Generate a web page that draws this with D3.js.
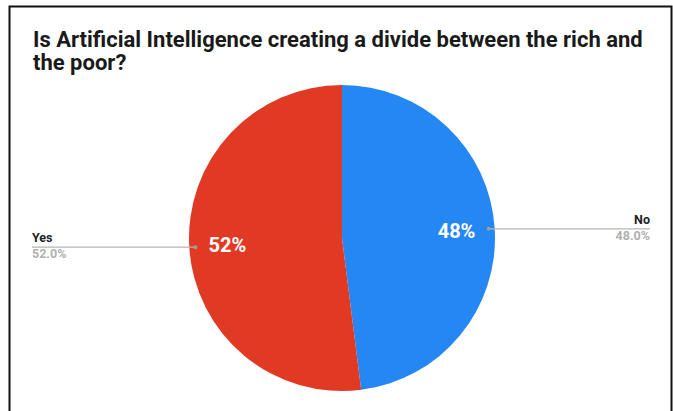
<!DOCTYPE html>
<html>
<head>
<meta charset="utf-8">
<script src="https://cdn.jsdelivr.net/npm/d3@7"></script>
<style>
  body { margin: 0; background: #fff; }
  svg { display: block; }
</style>
</head>
<body>
<script>
'use strict';

// data
const labels = ["No", "Yes"];
const values = [48, 52];
const colors = ["#2587f4", "#e03a25"];
const titleLines = [
    "Is Artificial Intelligence creating a divide between the rich and",
    "the poor?"
];

function createPie(width, height) {
    let svg = d3.select("body").append("svg")
        .attr("width", width)
        .attr("height", height);

    // frame, bottom edge runs off the picture
    svg.append("rect")
        .attr("x", 9.5)
        .attr("y", 6.5)
        .attr("width", 662)
        .attr("height", 430)
        .attr("fill", "#fff")
        .attr("stroke", "#111")
        .attr("stroke-width", 2);

    svg.append("g")
        .selectAll("text")
        .data(titleLines)
        .enter().append("text")
        .attr("x", 33)
        .attr("y", function(d, i) { return 47 + i * 23; })
        .text(function(d) { return d; })
        .style("font-family", "Roboto")
        .style("font-weight", "bold")
        .style("font-size", "22px")
        .style("fill", "#1a1a1a");

    let cx = 342, cy = 238, radius = 153;
    let total = d3.sum(values);

    let pie = d3.pie().sort(null).value(function(d) { return d; });
    let arcs = pie(values);
    let arc = d3.arc().innerRadius(0).outerRadius(radius);
    let inner = d3.arc().innerRadius(radius * 0.75).outerRadius(radius * 0.75);
    let dotArc = d3.arc().innerRadius(radius * 0.96).outerRadius(radius * 0.96);

    let g = svg.append("g")
        .attr("transform", "translate(" + cx + "," + cy + ")");

    g.selectAll("path")
        .data(arcs)
        .enter().append("path")
        .attr("d", arc)
        .attr("fill", function(d, i) { return colors[i]; });

    g.selectAll("text.pct")
        .data(arcs)
        .enter().append("text")
        .attr("class", "pct")
        .attr("transform", function(d) { return "translate(" + inner.centroid(d) + ")"; })
        .attr("text-anchor", "middle")
        .attr("dy", "0.36em")
        .text(function(d) { return Math.round(d.value / total * 100) + "%"; })
        .style("font-family", "Roboto")
        .style("font-weight", "bold")
        .style("font-size", "20px")
        .style("fill", "#fff");

    // outside labels with leader lines
    let lineEnd = [650, 32];
    arcs.forEach(function(d, i) {
        let p = dotArc.centroid(d);
        let px = cx + p[0], py = cy + p[1];
        let right = p[0] > 0;
        svg.append("line")
            .attr("x1", px).attr("y1", py)
            .attr("x2", lineEnd[i]).attr("y2", py)
            .attr("stroke", "#b5b5b5")
            .attr("stroke-width", 1.2);
        svg.append("circle")
            .attr("cx", px).attr("cy", py).attr("r", 2)
            .attr("fill", "#9e9e9e");
        svg.append("text")
            .attr("x", lineEnd[i])
            .attr("y", py - 5)
            .attr("text-anchor", right ? "end" : "start")
            .text(labels[i])
            .style("font-family", "Roboto")
            .style("font-weight", "bold")
            .style("font-size", "12.5px")
            .style("fill", "#222");
        svg.append("text")
            .attr("x", lineEnd[i])
            .attr("y", py + 11)
            .attr("text-anchor", right ? "end" : "start")
            .text((d.value / total * 100).toFixed(1) + "%")
            .style("font-family", "Roboto")
            .style("font-weight", "bold")
            .style("font-size", "12.5px")
            .style("fill", "#b0b0b0");
    });
}

createPie(673, 411);
</script>
</body>
</html>
